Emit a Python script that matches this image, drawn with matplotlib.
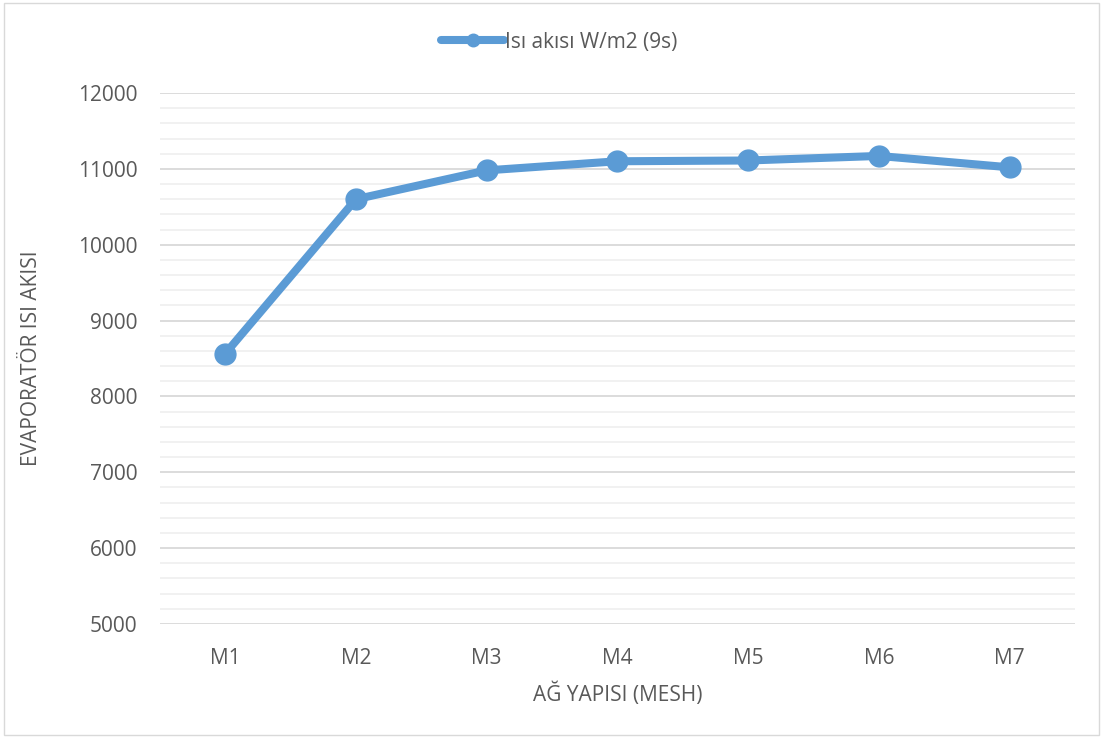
import matplotlib.pyplot as plt
from matplotlib.patches import Rectangle
import numpy as np

plt.rcParams['font.family'] = ['Open Sans', 'DejaVu Sans']

# mesh names and heat flux values
meshes = ["M1", "M2", "M3", "M4", "M5", "M6", "M7"]
heat_flux = [8565, 10600, 10980, 11100, 11110, 11170, 11020]

fig = plt.figure(figsize=(11.03, 7.38), dpi=100)
ax = fig.add_axes([0.145, 0.1545, 0.8296, 0.7195])

x = np.arange(len(meshes))
ax.plot(x, heat_flux, color="#5B9BD5", lw=5.8, marker="o", ms=15,
        solid_capstyle="round", label="Isı akısı W/m2 (9s)", zorder=3)

ax.set_xlim(-0.5, len(meshes) - 0.5)
ax.set_ylim(5000, 12000)
ax.set_xticks(x)
ax.set_xticklabels(meshes)
ax.set_yticks(np.arange(5000, 12001, 1000))
ax.set_yticks(np.arange(5000, 12001, 200), minor=True)
ax.grid(axis="y", which="major", color="#D9D9D9", lw=1.3)
ax.grid(axis="y", which="minor", color="#F0F0F0", lw=1.3)
ax.tick_params(which="both", length=0, labelsize=15, colors="#595959")
ax.tick_params(axis="x", pad=17)
ax.tick_params(axis="y", pad=16)
for s in ax.spines.values():
    s.set_visible(False)
ax.set_axisbelow(True)

ax.set_xlabel("AĞ YAPISI (MESH)", fontsize=15, color="#595959", labelpad=10)
ax.set_ylabel("EVAPORATÖR ISI AKISI", fontsize=15, color="#595959", labelpad=26)

fig.legend(loc="center", bbox_to_anchor=(0.507, 0.943), frameon=False,
           fontsize=15, labelcolor="#595959", handlelength=3.0,
           handletextpad=0.05, markerscale=0.6)

# light frame around the chart
fig.patches.append(Rectangle((0.004, 0.004), 0.992, 0.992, transform=fig.transFigure,
                             fill=False, edgecolor="#D9D9D9", lw=1))

fig.savefig("out.png", dpi=100)
